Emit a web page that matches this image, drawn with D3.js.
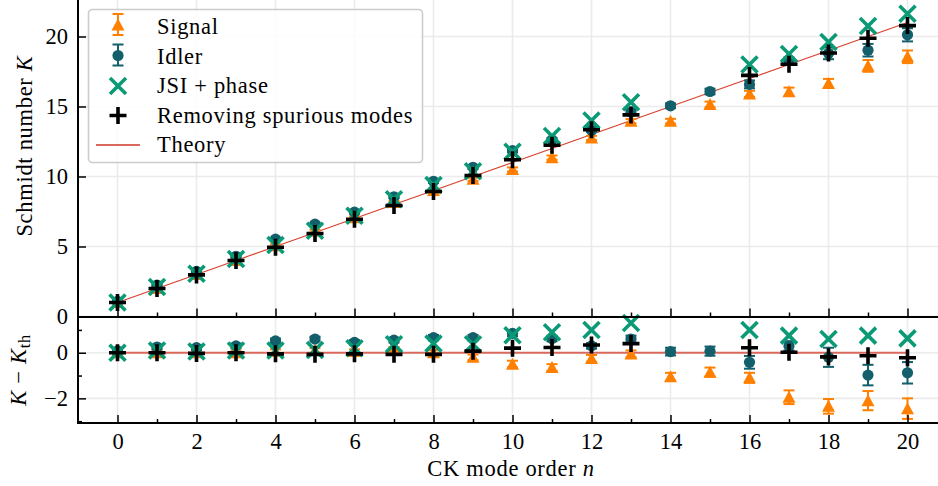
<!DOCTYPE html>
<html>
<head>
<meta charset="utf-8">
<script src="https://cdn.jsdelivr.net/npm/d3@7"></script>
<style>
  html, body { margin: 0; padding: 0; background: #fff; }
  svg, svg text { font-family: "Liberation Serif", serif; }
  svg { display: block; }
</style>
</head>
<body>
<div id="chart"></div>
<script>
// CK mode order and theoretical Schmidt number
const modeOrder = [0, 1, 2, 3, 4, 5, 6, 7, 8, 9, 10, 11, 12, 13, 14, 15, 16, 17, 18, 19, 20];
const theoryK   = [1, 2, 3, 4, 5, 6, 7, 8, 9, 10, 11, 12, 13, 14, 15, 16, 17, 18, 19, 20, 21];

const signalK   = [1.0, 2.0, 3.0, 4.0, 5.05, 6.1, 7.05, 8.15, 9.0, 9.8, 10.5, 11.35, 12.75, 13.95, 13.95, 15.15, 15.9, 16.05, 16.65, 17.9, 18.55];
const signalErr = [0.1, 0.1, 0.1, 0.1, 0.1, 0.1, 0.1, 0.1, 0.12, 0.12, 0.15, 0.15, 0.15, 0.15, 0.17, 0.2, 0.22, 0.3, 0.32, 0.42, 0.45];
const idlerK    = [1.08, 2.25, 3.22, 4.3, 5.52, 6.6, 7.45, 8.55, 9.66, 10.66, 11.85, 12.62, 13.3, 14.6, 15.05, 16.07, 16.58, 18.3, 18.8, 19.02, 20.12];
const idlerErr  = [0.1, 0.1, 0.1, 0.1, 0.1, 0.1, 0.1, 0.1, 0.12, 0.12, 0.12, 0.12, 0.12, 0.15, 0.17, 0.2, 0.28, 0.2, 0.42, 0.45, 0.47];
const jsiK      = [1.0, 2.1, 3.05, 4.1, 5.1, 6.12, 7.2, 8.37, 9.4, 10.37, 11.77, 12.9, 14.0, 15.3, null, null, 18.0, 18.75, 19.6, 20.75, 21.63];
const cleanedK  = [1.0, 2.0, 2.97, 4.0, 4.95, 5.93, 6.95, 7.93, 8.93, 10.07, 11.2, 12.23, 13.34, 14.4, null, null, 17.22, 18.02, 18.82, 19.87, 20.78];

const xTicksMajor = [0, 2, 4, 6, 8, 10, 12, 14, 16, 18, 20];
const xTicksMinor = [1, 3, 5, 7, 9, 11, 13, 15, 17, 19];
const yTopTicks = [0, 5, 10, 15, 20];
const yBotTicks = [-2, 0];
const yBotMinor = [-3, -1, 1];

const colors = {
  signal: '#ff8000',
  idler: '#135f6b',
  jsi: '#0b9a76',
  cleaned: '#000000',
  theory: '#d8412f'
};

const W = 938, H = 486;
const FS = 22.5;
const SPACING = '0.7px';

const svg = d3.select('#chart').append('svg')
  .attr('width', W)
  .attr('height', H);

const x = d3.scaleLinear().domain([-1, 21]).range([78, 947]);
const yTop = d3.scaleLinear().domain([0, 22.5]).range([316.5, 1.5]);
const yBot = d3.scaleLinear().domain([-3.08, 1.54]).range([423, 317.6]);

const residual = (arr) => arr.map((v, i) => v == null ? null : v - theoryK[i]);

// Grid
function drawGrid(g, y, yTicks, y0, y1) {
  g.selectAll('line.vg').data(xTicksMajor).join('line')
    .attr('x1', d => x(d)).attr('x2', d => x(d))
    .attr('y1', y0).attr('y2', y1)
    .attr('stroke', '#ebebeb').attr('stroke-width', 1.6);
  g.selectAll('line.hg').data(yTicks).join('line')
    .attr('x1', 78).attr('x2', W)
    .attr('y1', d => y(d)).attr('y2', d => y(d))
    .attr('stroke', '#ebebeb').attr('stroke-width', 1.6);
}

// Markers
function errorBars(g, data, y, color) {
  const eb = g.append('g');
  data.forEach(d => {
    if (d.v == null) return;
    const xc = x(d.n), ylo = y(d.v - d.e), yhi = y(d.v + d.e);
    eb.append('line').attr('x1', xc).attr('x2', xc).attr('y1', ylo).attr('y2', yhi)
      .attr('stroke', color).attr('stroke-width', 2);
    [ylo, yhi].forEach(yy => eb.append('line')
      .attr('x1', xc - 5.5).attr('x2', xc + 5.5).attr('y1', yy).attr('y2', yy)
      .attr('stroke', color).attr('stroke-width', 2));
  });
}

const triPath = (cx, cy) => { const s = 6.5; return `M${cx},${cy - s}L${cx + s},${cy + s * 0.85}L${cx - s},${cy + s * 0.85}Z`; };
const xPath = (cx, cy) => { const s = 8; return `M${cx - s},${cy - s}L${cx + s},${cy + s}M${cx - s},${cy + s}L${cx + s},${cy - s}`; };
const plusPath = (cx, cy) => { const s = 8.5; return `M${cx - s},${cy}L${cx + s},${cy}M${cx},${cy - s}L${cx},${cy + s}`; };

function drawSeries(g, y, theoryVals, lineStyle, sig, sigE, idl, idlE, jsi, cln) {
  // theory line
  g.append('path')
    .datum(modeOrder.map((n, i) => ({ n, v: theoryVals[i] })))
    .attr('d', d3.line().x(d => x(d.n)).y(d => y(d.v)))
    .attr('fill', 'none')
    .attr('stroke', lineStyle.color)
    .attr('stroke-width', lineStyle.width);

  const sigData = modeOrder.map((n, i) => ({ n, v: sig[i], e: sigE[i] }));
  errorBars(g, sigData, y, colors.signal);
  g.append('g').selectAll('path').data(sigData).join('path')
    .attr('d', d => triPath(x(d.n), y(d.v)))
    .attr('fill', colors.signal);

  const idlData = modeOrder.map((n, i) => ({ n, v: idl[i], e: idlE[i] }));
  errorBars(g, idlData, y, colors.idler);
  g.append('g').selectAll('circle').data(idlData).join('circle')
    .attr('cx', d => x(d.n)).attr('cy', d => y(d.v)).attr('r', 5.6)
    .attr('fill', colors.idler);

  const jsiData = modeOrder.map((n, i) => ({ n, v: jsi[i] })).filter(d => d.v != null);
  g.append('g').selectAll('path').data(jsiData).join('path')
    .attr('d', d => xPath(x(d.n), y(d.v)))
    .attr('fill', 'none').attr('stroke', colors.jsi).attr('stroke-width', 3.6);

  const clnData = modeOrder.map((n, i) => ({ n, v: cln[i] })).filter(d => d.v != null);
  g.append('g').selectAll('path').data(clnData).join('path')
    .attr('d', d => plusPath(x(d.n), y(d.v)))
    .attr('fill', 'none').attr('stroke', colors.cleaned).attr('stroke-width', 3.6);
}

// ---- top panel ----
const gTop = svg.append('g');
drawGrid(gTop, yTop, yTopTicks, 0, yTop(0));
drawSeries(gTop, yTop, theoryK, { color: colors.theory, width: 1.3 },
  signalK, signalErr, idlerK, idlerErr, jsiK, cleanedK);

// ---- bottom panel (residuals) ----
const gBot = svg.append('g');
drawGrid(gBot, yBot, yBotTicks, yBot.range()[1], yBot.range()[0]);
drawSeries(gBot, yBot, theoryK.map(() => 0), { color: '#d9695c', width: 2.2 },
  residual(signalK), signalErr, residual(idlerK), idlerErr, residual(jsiK), residual(cleanedK));

// ---- axes ----
function styleAxis(g) {
  g.attr('font-family', null).attr('font-size', null);
  g.select('.domain').remove();
  g.selectAll('.tick line').attr('stroke', '#000').attr('stroke-width', 1.5);
  g.selectAll('.tick text').attr('fill', '#000').style('font-size', FS + 'px');
}

// top panel x ticks (inward, no labels)
svg.append('g').attr('transform', `translate(0,${yTop(0)})`)
  .call(d3.axisBottom(x).tickValues(xTicksMajor).tickSize(-8).tickFormat(''))
  .call(styleAxis);
svg.append('g').attr('transform', `translate(0,${yTop(0)})`)
  .call(d3.axisBottom(x).tickValues(xTicksMinor).tickSize(-4).tickFormat(''))
  .call(styleAxis);

// bottom panel x ticks with labels
svg.append('g').attr('transform', `translate(0,${yBot.range()[0]})`)
  .call(d3.axisBottom(x).tickValues(xTicksMajor).tickSize(-8).tickPadding(10).tickFormat(d3.format('d')))
  .call(styleAxis);
svg.append('g').attr('transform', `translate(0,${yBot.range()[0]})`)
  .call(d3.axisBottom(x).tickValues(xTicksMinor).tickSize(-4).tickFormat(''))
  .call(styleAxis);

// y axes
svg.append('g').attr('transform', 'translate(78,0)')
  .call(d3.axisLeft(yTop).tickValues(yTopTicks).tickSize(-8).tickPadding(10).tickFormat(d3.format('d')))
  .call(styleAxis);
svg.append('g').attr('transform', 'translate(78,0)')
  .call(d3.axisLeft(yBot).tickValues(yBotTicks).tickSize(-8).tickPadding(10).tickFormat(d3.format('d')))
  .call(styleAxis);
svg.append('g').attr('transform', 'translate(78,0)')
  .call(d3.axisLeft(yBot).tickValues(yBotMinor).tickSize(-4).tickFormat(''))
  .call(styleAxis);

// spines
svg.append('line').attr('x1', 78).attr('x2', 78).attr('y1', 0).attr('y2', yBot.range()[0] + 1)
  .attr('stroke', '#000').attr('stroke-width', 2);
svg.append('line').attr('x1', 77).attr('x2', W).attr('y1', 317).attr('y2', 317)
  .attr('stroke', '#000').attr('stroke-width', 2.2);
svg.append('line').attr('x1', 77).attr('x2', W).attr('y1', yBot.range()[0]).attr('y2', yBot.range()[0])
  .attr('stroke', '#000').attr('stroke-width', 2);

// axis labels
const yl1 = svg.append('text')
  .attr('transform', 'translate(32,146) rotate(-90)')
  .attr('text-anchor', 'middle').style('font-size', FS + 'px').style('letter-spacing', SPACING);
yl1.append('tspan').text('Schmidt number ');
yl1.append('tspan').attr('font-style', 'italic').text('K');

const yl2 = svg.append('text')
  .attr('transform', 'translate(26,370) rotate(-90)')
  .attr('text-anchor', 'middle').style('font-size', FS + 'px').style('letter-spacing', SPACING);
yl2.append('tspan').attr('font-style', 'italic').text('K');
yl2.append('tspan').text(' \u2212 ');
yl2.append('tspan').attr('font-style', 'italic').text('K');
yl2.append('tspan').attr('dy', 4).style('font-size', (FS * 0.72) + 'px').text('th');

const xl = svg.append('text')
  .attr('x', 511).attr('y', 476)
  .attr('text-anchor', 'middle').style('font-size', FS + 'px').style('letter-spacing', SPACING);
xl.append('tspan').text('CK mode order ');
xl.append('tspan').attr('font-style', 'italic').text('n');

// ---- legend ----
const legendItems = ['Signal', 'Idler', 'JSI + phase', 'Removing spurious modes', 'Theory'];
const lg = svg.append('g');
lg.append('rect')
  .attr('x', 88.5).attr('y', 9.5).attr('width', 334).attr('height', 153).attr('rx', 4)
  .attr('fill', 'rgba(255,255,255,0.85)').attr('stroke', '#cccccc').attr('stroke-width', 1.6);

const rowY = d3.scalePoint().domain(legendItems).range([27, 145]);
const mx = 118;
function legendErrorbar(yc, color) {
  lg.append('line').attr('x1', mx).attr('x2', mx).attr('y1', yc - 12).attr('y2', yc + 9)
    .attr('stroke', color).attr('stroke-width', 2);
  [yc - 12, yc + 9].forEach(yy => lg.append('line')
    .attr('x1', mx - 5.5).attr('x2', mx + 5.5).attr('y1', yy).attr('y2', yy)
    .attr('stroke', color).attr('stroke-width', 2));
}
legendErrorbar(rowY('Signal') - 1, colors.signal);
lg.append('path').attr('d', triPath(mx, rowY('Signal') - 2)).attr('fill', colors.signal);
legendErrorbar(rowY('Idler'), colors.idler);
lg.append('circle').attr('cx', mx).attr('cy', rowY('Idler') - 1).attr('r', 5.6).attr('fill', colors.idler);
lg.append('path').attr('d', xPath(mx, rowY('JSI + phase')))
  .attr('fill', 'none').attr('stroke', colors.jsi).attr('stroke-width', 3.6);
lg.append('path').attr('d', plusPath(mx, rowY('Removing spurious modes')))
  .attr('fill', 'none').attr('stroke', colors.cleaned).attr('stroke-width', 3.6);
lg.append('line').attr('x1', 96).attr('x2', 140).attr('y1', rowY('Theory')).attr('y2', rowY('Theory'))
  .attr('stroke', '#d9695c').attr('stroke-width', 1.8);

lg.selectAll('text.lab').data(legendItems).join('text')
  .attr('class', 'lab')
  .attr('x', 157).attr('y', d => rowY(d) + 7)
  .style('font-size', FS + 'px')
  .style('letter-spacing', SPACING)
  .text(d => d);
</script>
</body>
</html>
